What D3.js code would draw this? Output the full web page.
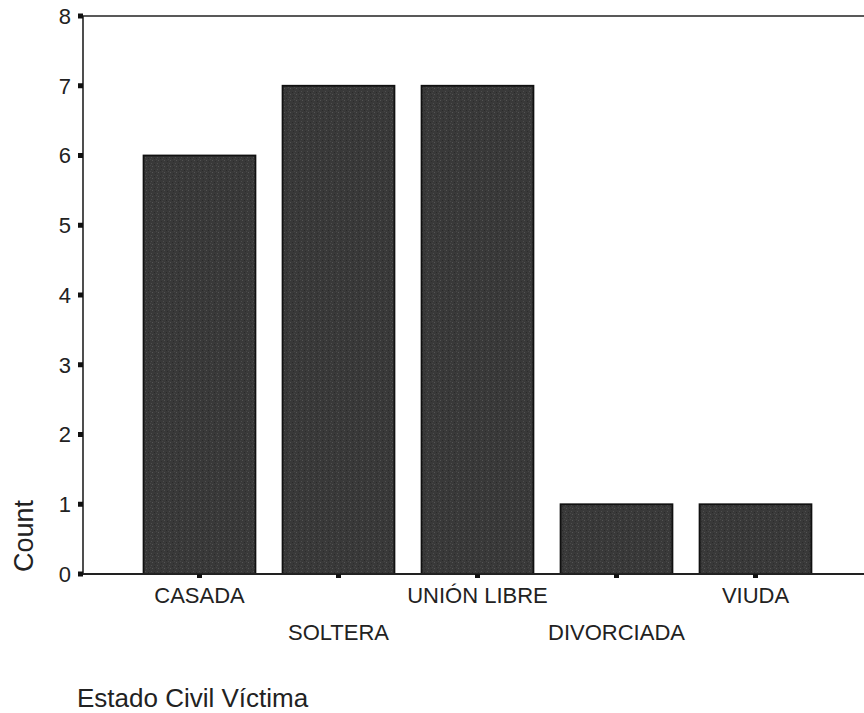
<!DOCTYPE html>
<html><head><meta charset="utf-8">
<script src="https://cdn.jsdelivr.net/npm/d3@7"></script>
<style>body{margin:0;background:#fff}svg{display:block}</style>
</head><body>
<script>
const categories = ["CASADA","SOLTERA","UNIÓN LIBRE","DIVORCIADA","VIUDA"];
const counts = [6,7,7,1,1];
const yTicks = [0,1,2,3,4,5,6,7,8];
const yLabel = "Count";
const xTitle = "Estado Civil Víctima";

const W=864,H=713;
const svg=d3.select("body").append("svg").attr("width",W).attr("height",H);
const font="'Liberation Sans', Arial, sans-serif";
const x=d3.scaleBand().domain(categories).range([130,825]).paddingInner(0.195).paddingOuter(0.0975);
const y=d3.scaleLinear().domain([0,8]).range([574,16]);
const axX=83;

const defs=svg.append("defs");
const pat=defs.append("pattern").attr("id","grain").attr("patternUnits","userSpaceOnUse").attr("width",6).attr("height",6);
pat.append("rect").attr("width",6).attr("height",6).attr("fill","#393939");
[[1,1,"#4e4e4e"],[4,2,"#2a2a2a"],[2,4,"#545454"],[5,5,"#2e2e2e"],[0,3,"#474747"]].forEach(([a,b,c])=>pat.append("rect").attr("x",a).attr("y",b).attr("width",1).attr("height",1).attr("fill",c));

svg.append("g").selectAll("rect").data(categories).join("rect")
 .attr("x",d=>x(d)).attr("width",x.bandwidth())
 .attr("y",(d,i)=>y(counts[i])).attr("height",(d,i)=>y(0)-y(counts[i]))
 .attr("fill","url(#grain)").attr("stroke","#111").attr("stroke-width",1.8);

svg.append("line").attr("x1",axX).attr("x2",W).attr("y1",y(8)).attr("y2",y(8)).attr("stroke","#222").attr("stroke-width",1.6);
svg.append("line").attr("x1",axX).attr("x2",W).attr("y1",y(0)).attr("y2",y(0)).attr("stroke","#222").attr("stroke-width",1.8);
svg.append("line").attr("x1",axX).attr("x2",axX).attr("y1",y(8)).attr("y2",y(0)).attr("stroke","#222").attr("stroke-width",1.6);

const yg=svg.append("g");
yg.selectAll("rect").data(yTicks).join("rect").attr("x",axX-5).attr("y",d=>y(d)-2.5).attr("width",5).attr("height",5).attr("fill","#111");
yg.selectAll("text").data(yTicks).join("text").attr("x",71).attr("y",d=>y(d)).attr("dy","0.36em")
 .attr("text-anchor","end").attr("font-family",font).attr("font-size",22).attr("fill","#222").text(d=>d);

const xg=svg.append("g");
xg.selectAll("rect").data(categories).join("rect").attr("x",d=>x(d)+x.bandwidth()/2-2.5).attr("y",y(0)).attr("width",5).attr("height",4).attr("fill","#111");
xg.selectAll("text").data(categories).join("text").attr("x",d=>x(d)+x.bandwidth()/2)
 .attr("y",(d,i)=>i%2===0?603:640).attr("text-anchor","middle").attr("font-family",font).attr("font-size",22).attr("fill","#222").text(d=>d);

svg.append("text").attr("transform","translate(33,536) rotate(-90)").attr("text-anchor","middle")
 .attr("font-family",font).attr("font-size",27).attr("fill","#222").text(yLabel);
svg.append("text").attr("x",77).attr("y",707).attr("font-family",font).attr("font-size",26).attr("fill","#222").text(xTitle);
</script>
</body></html>
